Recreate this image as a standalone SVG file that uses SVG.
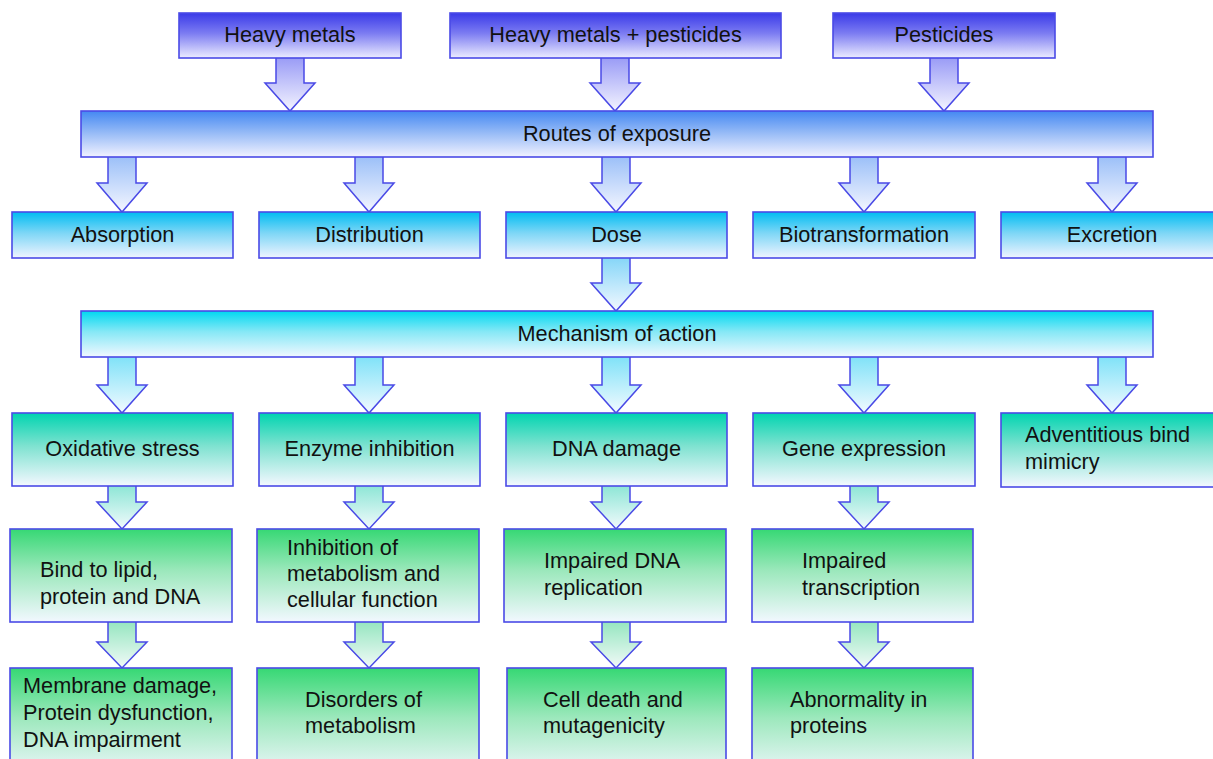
<svg xmlns="http://www.w3.org/2000/svg" width="1213" height="759" viewBox="0 0 1213 759">
<defs>
<linearGradient id="gTop" x1="0" y1="0" x2="0" y2="1"><stop offset="0" stop-color="#3a3ae8"/><stop offset="0.45" stop-color="#7c7cf2"/><stop offset="1" stop-color="#ececff"/></linearGradient>
<linearGradient id="gRoute" x1="0" y1="0" x2="0" y2="1"><stop offset="0" stop-color="#4488f2"/><stop offset="0.45" stop-color="#92b8f6"/><stop offset="1" stop-color="#f2f2ff"/></linearGradient>
<linearGradient id="gRow2" x1="0" y1="0" x2="0" y2="1"><stop offset="0" stop-color="#00bcf2"/><stop offset="0.45" stop-color="#7cd6f6"/><stop offset="1" stop-color="#f0f4ff"/></linearGradient>
<linearGradient id="gMech" x1="0" y1="0" x2="0" y2="1"><stop offset="0" stop-color="#00d8f0"/><stop offset="0.45" stop-color="#86e8f6"/><stop offset="1" stop-color="#f2f8ff"/></linearGradient>
<linearGradient id="gRow3" x1="0" y1="0" x2="0" y2="1"><stop offset="0" stop-color="#00d4b0"/><stop offset="0.45" stop-color="#7ee2d0"/><stop offset="1" stop-color="#f4f8ff"/></linearGradient>
<linearGradient id="gGreen" x1="0" y1="0" x2="0" y2="1"><stop offset="0" stop-color="#36d874"/><stop offset="0.45" stop-color="#9ce8bc"/><stop offset="1" stop-color="#f2f8ff"/></linearGradient>
<linearGradient id="aTop" x1="0" y1="0" x2="0" y2="1"><stop offset="0" stop-color="#9a9cf6"/><stop offset="1" stop-color="#f4f4ff"/></linearGradient>
<linearGradient id="aRoute" x1="0" y1="0" x2="0" y2="1"><stop offset="0" stop-color="#9cc0f8"/><stop offset="1" stop-color="#f4f6ff"/></linearGradient>
<linearGradient id="aDose" x1="0" y1="0" x2="0" y2="1"><stop offset="0" stop-color="#86d6f8"/><stop offset="1" stop-color="#f2f8ff"/></linearGradient>
<linearGradient id="aMech" x1="0" y1="0" x2="0" y2="1"><stop offset="0" stop-color="#80e2f8"/><stop offset="1" stop-color="#f2faff"/></linearGradient>
<linearGradient id="aRow3" x1="0" y1="0" x2="0" y2="1"><stop offset="0" stop-color="#8ee6d6"/><stop offset="1" stop-color="#f2fafc"/></linearGradient>
<linearGradient id="aGreen" x1="0" y1="0" x2="0" y2="1"><stop offset="0" stop-color="#96e6c0"/><stop offset="1" stop-color="#f2faf8"/></linearGradient>
<style>
.box{stroke:#4a4ae6;stroke-width:1.6}
.arr{stroke:#4a4ae6;stroke-width:1.5;stroke-linejoin:miter}
text{font-family:"Liberation Sans",Arial,sans-serif;font-size:21.7px;fill:#111}
.c{text-anchor:middle}
</style>
</defs>
<rect x="0" y="0" width="1213" height="759" fill="#ffffff"/>
<g id="connectors">
<path class="arr" fill="url(#aTop)" d="M276 58V83H265L290 111L315 83H304V58"/>
<path class="arr" fill="url(#aTop)" d="M601 58V83H590L615 111L640 83H629V58"/>
<path class="arr" fill="url(#aTop)" d="M930 58V83H919L944 111L969 83H958V58"/>
<path class="arr" fill="url(#aRoute)" d="M108 157V183H97L122 212L147 183H136V157"/>
<path class="arr" fill="url(#aRoute)" d="M355 157V183H344L369 212L394 183H383V157"/>
<path class="arr" fill="url(#aRoute)" d="M602 157V183H591L616 212L641 183H630V157"/>
<path class="arr" fill="url(#aRoute)" d="M850 157V183H839L864 212L889 183H878V157"/>
<path class="arr" fill="url(#aRoute)" d="M1098 157V183H1087L1112 212L1137 183H1126V157"/>
<path class="arr" fill="url(#aDose)" d="M602 258V283H591L616 311L641 283H630V258"/>
<path class="arr" fill="url(#aMech)" d="M108 357V385H97L122 413L147 385H136V357"/>
<path class="arr" fill="url(#aMech)" d="M355 357V385H344L369 413L394 385H383V357"/>
<path class="arr" fill="url(#aMech)" d="M602 357V385H591L616 413L641 385H630V357"/>
<path class="arr" fill="url(#aMech)" d="M850 357V385H839L864 413L889 385H878V357"/>
<path class="arr" fill="url(#aMech)" d="M1098 357V385H1087L1112 413L1137 385H1126V357"/>
<path class="arr" fill="url(#aRow3)" d="M108 486V502H97L122 529L147 502H136V486"/>
<path class="arr" fill="url(#aRow3)" d="M355 486V502H344L369 529L394 502H383V486"/>
<path class="arr" fill="url(#aRow3)" d="M602 486V502H591L616 529L641 502H630V486"/>
<path class="arr" fill="url(#aRow3)" d="M850 486V502H839L864 529L889 502H878V486"/>
<path class="arr" fill="url(#aGreen)" d="M108 622V642H97L122 668L147 642H136V622"/>
<path class="arr" fill="url(#aGreen)" d="M355 622V642H344L369 668L394 642H383V622"/>
<path class="arr" fill="url(#aGreen)" d="M602 622V642H591L616 668L641 642H630V622"/>
<path class="arr" fill="url(#aGreen)" d="M850 622V642H839L864 668L889 642H878V622"/>
</g>
<g id="heavy-metals"><rect class="box" x="179" y="13" width="222" height="45" fill="url(#gTop)"/><text class="c" x="290" y="42">Heavy metals</text></g>
<g id="heavy-metals-pesticides"><rect class="box" x="450" y="13" width="331" height="45" fill="url(#gTop)"/><text class="c" x="615.5" y="42">Heavy metals + pesticides</text></g>
<g id="pesticides"><rect class="box" x="833" y="13" width="222" height="45" fill="url(#gTop)"/><text class="c" x="944" y="42">Pesticides</text></g>
<g id="routes"><rect class="box" x="81" y="111" width="1072" height="46" fill="url(#gRoute)"/><text class="c" x="617" y="141">Routes of exposure</text></g>
<g id="absorption"><rect class="box" x="12" y="212" width="221" height="46" fill="url(#gRow2)"/><text class="c" x="122.5" y="242">Absorption</text></g>
<g id="distribution"><rect class="box" x="259" y="212" width="221" height="46" fill="url(#gRow2)"/><text class="c" x="369.5" y="242">Distribution</text></g>
<g id="dose"><rect class="box" x="506" y="212" width="221" height="46" fill="url(#gRow2)"/><text class="c" x="616.5" y="242">Dose</text></g>
<g id="biotransformation"><rect class="box" x="753" y="212" width="222" height="46" fill="url(#gRow2)"/><text class="c" x="864" y="242">Biotransformation</text></g>
<g id="excretion"><rect class="box" x="1001" y="212" width="222" height="46" fill="url(#gRow2)"/><text class="c" x="1112" y="242">Excretion</text></g>
<g id="mechanism"><rect class="box" x="81" y="311" width="1072" height="46" fill="url(#gMech)"/><text class="c" x="617" y="341">Mechanism of action</text></g>
<g id="oxidative-stress"><rect class="box" x="12" y="413" width="221" height="73" fill="url(#gRow3)"/><text class="c" x="122.5" y="456">Oxidative stress</text></g>
<g id="enzyme-inhibition"><rect class="box" x="259" y="413" width="221" height="73" fill="url(#gRow3)"/><text class="c" x="369.5" y="456">Enzyme inhibition</text></g>
<g id="dna-damage"><rect class="box" x="506" y="413" width="221" height="73" fill="url(#gRow3)"/><text class="c" x="616.5" y="456">DNA damage</text></g>
<g id="gene-expression"><rect class="box" x="753" y="413" width="222" height="73" fill="url(#gRow3)"/><text class="c" x="864" y="456">Gene expression</text></g>
<g id="adventitious"><rect class="box" x="1001" y="413" width="222" height="74" fill="url(#gRow3)"/><text x="1025" y="442">Adventitious bind</text><text x="1025" y="469">mimicry</text></g>
<g id="bind-lipid"><rect class="box" x="10" y="529" width="222" height="93" fill="url(#gGreen)"/><text x="40" y="577">Bind to lipid,</text><text x="40" y="604">protein and DNA</text></g>
<g id="inhibition-metabolism"><rect class="box" x="257" y="529" width="222" height="93" fill="url(#gGreen)"/><text x="287" y="555">Inhibition of</text><text x="287" y="581">metabolism and</text><text x="287" y="607">cellular function</text></g>
<g id="impaired-dna"><rect class="box" x="504" y="529" width="222" height="93" fill="url(#gGreen)"/><text x="544" y="568">Impaired DNA</text><text x="544" y="595">replication</text></g>
<g id="impaired-transcription"><rect class="box" x="752" y="529" width="221" height="93" fill="url(#gGreen)"/><text x="802" y="568">Impaired</text><text x="802" y="595">transcription</text></g>
<g id="membrane-damage"><rect class="box" x="10" y="668" width="222" height="110" fill="url(#gGreen)"/><text x="23" y="693">Membrane damage,</text><text x="23" y="720">Protein dysfunction,</text><text x="23" y="747">DNA impairment</text></g>
<g id="disorders-metabolism"><rect class="box" x="257" y="668" width="222" height="110" fill="url(#gGreen)"/><text x="305" y="707">Disorders of</text><text x="305" y="733">metabolism</text></g>
<g id="cell-death"><rect class="box" x="507" y="668" width="219" height="110" fill="url(#gGreen)"/><text x="543" y="707">Cell death and</text><text x="543" y="733">mutagenicity</text></g>
<g id="abnormality-proteins"><rect class="box" x="752" y="668" width="221" height="110" fill="url(#gGreen)"/><text x="790" y="707">Abnormality in</text><text x="790" y="733">proteins</text></g>
</svg>
